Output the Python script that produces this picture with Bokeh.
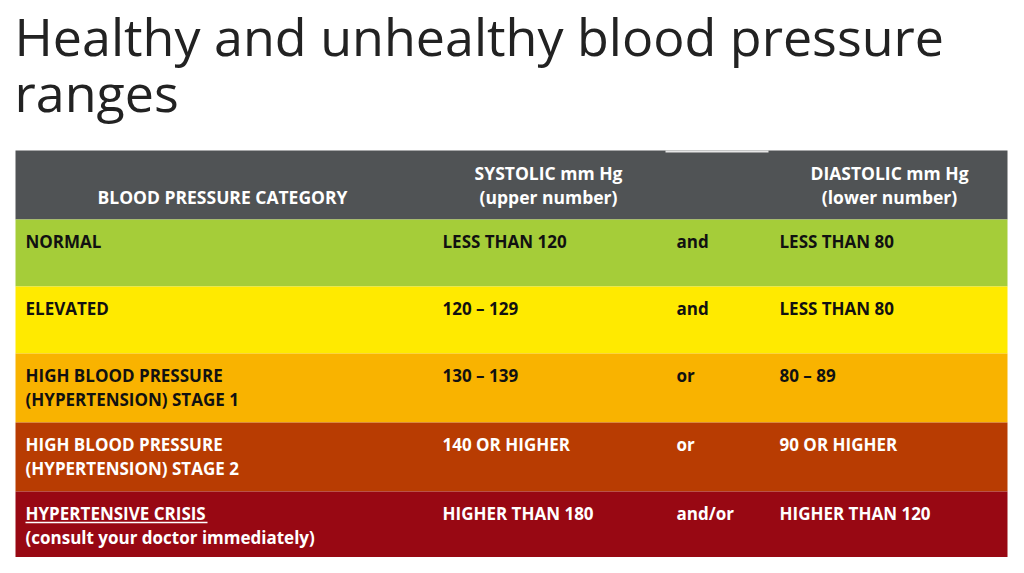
from bokeh.plotting import figure
from bokeh.models import Range1d, ColumnDataSource
from bokeh.core.properties import value
from bokeh.embed import file_html
from bokeh.resources import INLINE

title_lines = ["Healthy and unhealthy blood pressure", "ranges"]
header_cat = "BLOOD PRESSURE CATEGORY"
header_sys = ["SYSTOLIC mm Hg", "(upper number)"]
header_dia = ["DIASTOLIC mm Hg", "(lower number)"]

cat_line1 = ["NORMAL", "ELEVATED", "HIGH BLOOD PRESSURE", "HIGH BLOOD PRESSURE", "HYPERTENSIVE CRISIS"]
cat_line2 = ["", "", "(HYPERTENSION) STAGE 1", "(HYPERTENSION) STAGE 2", "(consult your doctor immediately)"]
systolic = ["LESS THAN 120", "120 \u2013 129", "130 \u2013 139", "140 OR HIGHER", "HIGHER THAN 180"]
connector = ["and", "and", "or", "or", "and/or"]
diastolic = ["LESS THAN 80", "LESS THAN 80", "80 \u2013 89", "90 OR HIGHER", "HIGHER THAN 120"]
row_colors = ["#a5cd39", "#ffea00", "#f9b300", "#b83c02", "#980813"]
text_colors = ["#111111", "#111111", "#111111", "#ffffff", "#ffffff"]

W, H = 1008, 557
p = figure(width=W, height=H, output_backend="svg", toolbar_location=None,
           x_range=Range1d(0, W), y_range=Range1d(H, 0),
           min_border=0)
p.axis.visible = False
p.grid.visible = False
p.outline_line_color = None
p.background_fill_color = "white"
p.border_fill_color = "white"

FONT = "Open Sans"
TL, TR = 15, 1007
HEAD_TOP, HEAD_BOT = 150, 219
row_tops = [219, 286, 353, 422, 491]
row_bots = [286, 353, 422, 491, 557]

# title
p.text(x=[14, 14], y=[35, 91], text=title_lines, text_font=value(FONT),
       text_font_size="52px", text_color="#222222", text_baseline="alphabetic", text_align="left")

# header
p.quad(left=[TL], right=[TR], top=[HEAD_TOP], bottom=[HEAD_BOT], fill_color="#505355", line_color=None)
p.quad(left=[665], right=[768], top=[150], bottom=[152], fill_color="#e6e6e6", line_color=None)
hs = dict(text_font=value(FONT), text_font_style="bold", text_font_size="17.5px",
          text_color="white", text_baseline="middle", text_align="center")
p.text(x=[222], y=[196], text=[header_cat], **hs)
p.text(x=[548, 548], y=[172, 196], text=header_sys, **hs)
p.text(x=[889, 889], y=[172, 196], text=header_dia, **hs)

# rows
src = ColumnDataSource(dict(
    top=row_tops, bottom=row_bots, color=row_colors, tcolor=text_colors,
    y1=[t + 22 for t in row_tops], y2=[t + 46 for t in row_tops],
    c1=cat_line1, c2=cat_line2, s=systolic, c=connector, d=diastolic,
))
p.quad(left=TL, right=TR, top="top", bottom="bottom", fill_color="color", line_color=None, source=src)
ts = dict(text_font=value(FONT), text_font_style="bold", text_font_size="17px",
          text_color="tcolor", text_baseline="middle", text_align="left", source=src)
p.text(x=25, y="y1", text="c1", **ts)
p.text(x=25, y="y2", text="c2", **ts)
p.text(x=442, y="y1", text="s", **ts)
p.text(x=676, y="y1", text="c", **ts)
p.text(x=779, y="y1", text="d", **ts)

# underline for the crisis label
p.segment(x0=[25], x1=[207], y0=[row_tops[4] + 31], y1=[row_tops[4] + 31], line_color="white", line_width=1.5)

open("out.html", "w").write(file_html(p, INLINE))
